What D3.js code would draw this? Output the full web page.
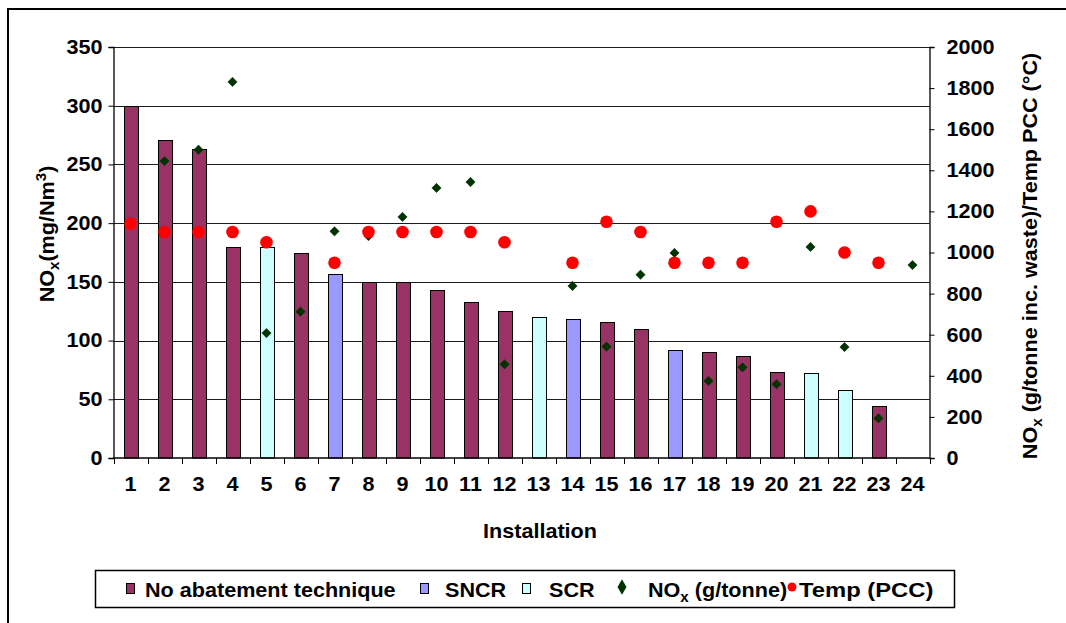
<!DOCTYPE html>
<html><head><meta charset="utf-8">
<script src="https://cdn.jsdelivr.net/npm/d3@7"></script>
<style>body{margin:0;background:#fff;} text{font-family:"Liberation Sans",Arial,sans-serif;font-weight:bold;fill:#000;}</style>
</head><body>
<svg id="c" width="1066" height="623"></svg>
<script>
const installations = d3.range(1,25).map(String);
const noxConc = [300,271,263,180,180,175,157,150,150,143,133,125,120,118,116,110,92,90,87,73,72,58,44,null];
const technique = ["none","none","none","none","SCR","none","SNCR","none","none","none","none","none","SCR","SNCR","none","none","SNCR","none","none","none","SCR","SCR","none","none"];
const noxPerTonne = [null,1445,1500,1830,608,712,1103,1080,1173,1314,1343,456,null,837,542,892,998,375,441,359,1027,540,193,939];
const tempPCC = [1140,1100,1100,1100,1050,null,950,1100,1100,1100,1100,1050,null,950,1150,1100,950,950,950,1150,1200,1000,950,null];
const leftTicks = [0,50,100,150,200,250,300,350];
const rightTicks = [0,200,400,600,800,1000,1200,1400,1600,1800,2000];
const colors = {none:"#993366", SNCR:"#9999FF", SCR:"#CCFFFF"};
const FS = 20, SX = 1.08, SUB = 14;

const svg = d3.select("#c");
svg.append("rect").attr("x",8).attr("y",9).attr("width",1070).attr("height",630)
  .attr("fill","none").attr("stroke","#000").attr("stroke-width",2);

const L=113.5, R=929.5, T=47, B=458;
const x = d3.scaleBand().domain(installations).range([L,R]).padding(0);
const yL = d3.scaleLinear().domain([0,350]).range([B,T]);
const yR = d3.scaleLinear().domain([0,2000]).range([B,T]);

function stretch(sel, sx){
  sx = sx || SX;
  sel.each(function(){
    const t=d3.select(this);
    const ax=+t.attr("x")||0, ay=+t.attr("y")||0;
    t.attr("transform",`translate(${ax},${ay}) scale(${sx},1) translate(${-ax},${-ay})`);
  });
}

// gridlines
svg.append("g").selectAll("line").data(leftTicks.filter(d=>d>0)).join("line")
  .attr("x1",L).attr("x2",R).attr("y1",d=>Math.round(yL(d))+0.5).attr("y2",d=>Math.round(yL(d))+0.5)
  .attr("stroke","#1a1a1a").attr("stroke-width",1);

// bars
const bw = 14;
svg.append("g").selectAll("rect").data(installations.map((k,i)=>({k,v:noxConc[i],t:technique[i]})).filter(d=>d.v!=null)).join("rect")
  .attr("x",d=>Math.round(x(d.k)+x.bandwidth()/2-bw/2)+0.5)
  .attr("y",d=>Math.round(yL(d.v))+0.5)
  .attr("width",bw).attr("height",d=>B-0.5-Math.round(yL(d.v)))
  .attr("fill",d=>colors[d.t]).attr("stroke","#000").attr("stroke-width",1);

// axes
const axL = svg.append("g").attr("transform",`translate(${L},0)`)
  .call(d3.axisLeft(yL).tickValues(leftTicks).tickSize(5).tickPadding(6));
const axR = svg.append("g").attr("transform",`translate(${R},0)`)
  .call(d3.axisRight(yR).tickValues(rightTicks).tickFormat(d3.format("d")).tickSize(5).tickPadding(12));
const axB = svg.append("g").attr("transform",`translate(0,${B})`)
  .call(d3.axisBottom(x).tickSize(0).tickPadding(19));
[axL,axR,axB].forEach(a=>{
  a.select(".domain").attr("stroke","#000").attr("stroke-width",1.3);
  a.selectAll(".tick line").attr("stroke","#000");
  a.selectAll("text").style("font-size",FS+"px").style("font-family","'Liberation Sans',Arial,sans-serif").style("font-weight","bold");
  stretch(a.selectAll("text"));
});
axB.select(".domain").attr("d",`M${L},0H${R}`);
// x ticks at category boundaries
svg.append("g").selectAll("line").data(installations.concat(["end"])).join("line")
  .attr("x1",(d,i)=>Math.round(L+i*x.bandwidth())+0.5).attr("x2",(d,i)=>Math.round(L+i*x.bandwidth())+0.5)
  .attr("y1",B).attr("y2",B+6).attr("stroke","#000");

// diamonds
const dPts = installations.map((k,i)=>({k,v:noxPerTonne[i]})).filter(d=>d.v!=null);
svg.append("g").selectAll("path").data(dPts).join("path")
  .attr("d",d3.symbol().type(d3.symbolDiamond2).size(55))
  .attr("transform",d=>`translate(${x(d.k)+x.bandwidth()/2},${yR(d.v)})`)
  .attr("fill","#003300").attr("stroke","#003300").attr("stroke-width",0.6);
// circles
const cPts = installations.map((k,i)=>({k,v:tempPCC[i]})).filter(d=>d.v!=null);
svg.append("g").selectAll("circle").data(cPts).join("circle")
  .attr("cx",d=>x(d.k)+x.bandwidth()/2).attr("cy",d=>yR(d.v)).attr("r",6.3)
  .attr("fill","#FF0000");

// titles
const lt = svg.append("text").attr("transform",`translate(54,234) rotate(-90) scale(${SX},1)`).attr("text-anchor","middle").style("font-size",FS+"px");
lt.append("tspan").text("NO");
lt.append("tspan").text("x").style("font-size",SUB+"px").attr("dy",5);
lt.append("tspan").text("(mg/Nm").attr("dy",-5);
lt.append("tspan").text("3").style("font-size",SUB+"px").attr("dy",-8);
lt.append("tspan").text(")").attr("dy",8);

const rt = svg.append("text").attr("transform",`translate(1037,256) rotate(-90) scale(${SX},1)`).attr("text-anchor","middle").style("font-size",FS+"px");
rt.append("tspan").text("NO");
rt.append("tspan").text("x").style("font-size",SUB+"px").attr("dy",5);
rt.append("tspan").text(" (g/tonne inc. waste)/Temp PCC (°C)").attr("dy",-5);

const xt = svg.append("text").attr("x",540).attr("y",538).attr("text-anchor","middle").style("font-size",FS+"px").text("Installation");
stretch(xt);

// legend
const lg = svg.append("g");
lg.append("rect").attr("x",95.5).attr("y",570.5).attr("width",859).attr("height",37).attr("fill","#fff").attr("stroke","#000").attr("stroke-width",1.5);
const legItems = [
  {type:"rect",c:colors.none,label:["No abatement technique"],mx:126,tx:145,sx:SX},
  {type:"rect",c:colors.SNCR,label:["SNCR"],mx:420,tx:445,sx:SX},
  {type:"rect",c:colors.SCR,label:["SCR"],mx:522,tx:549,sx:SX},
  {type:"diamond",c:"#003300",label:["NO","x"," (g/tonne)"],mx:622,tx:648,sx:SX},
  {type:"circle",c:"#FF0000",label:["Temp (PCC)"],mx:792,tx:799,sx:1.19}
];
const ly = 590;
legItems.forEach(it=>{
  if(it.type==="rect") lg.append("rect").attr("x",it.mx+0.5).attr("y",ly-6.5).attr("width",8).attr("height",10).attr("fill",it.c).attr("stroke","#000");
  else if(it.type==="diamond") lg.append("path").attr("d",d3.symbol().type(d3.symbolDiamond).size(70)).attr("transform",`translate(${it.mx},${ly-3})`).attr("fill",it.c);
  else lg.append("circle").attr("cx",it.mx).attr("cy",ly-3).attr("r",4.5).attr("fill",it.c);
  const t = lg.append("text").attr("x",it.tx).attr("y",ly+7).style("font-size",FS+"px");
  if(it.label.length===1) t.text(it.label[0]);
  else { t.append("tspan").text(it.label[0]); t.append("tspan").text(it.label[1]).style("font-size",SUB+"px").attr("dy",5); t.append("tspan").text(it.label[2]).attr("dy",-5); }
  stretch(t, it.sx);
});
</script>
</body></html>
